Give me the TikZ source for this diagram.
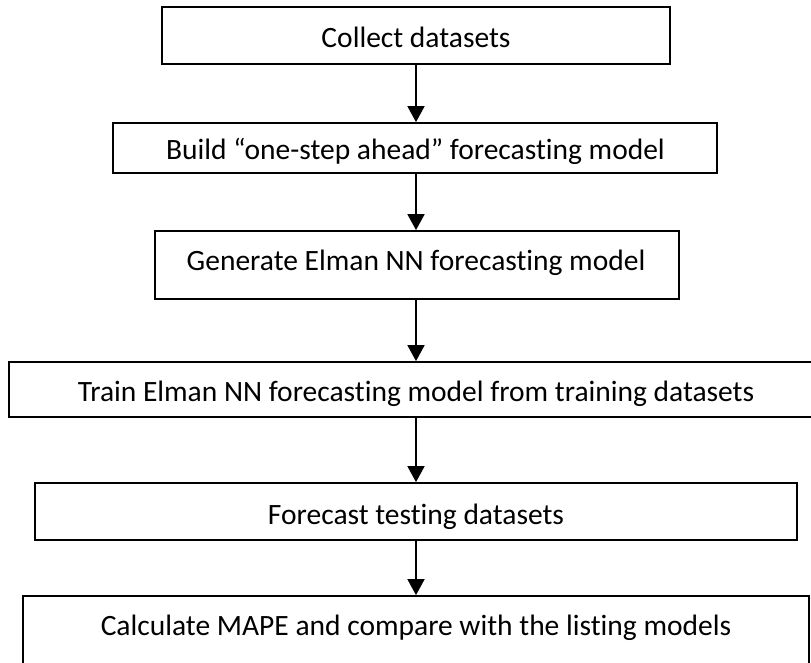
\documentclass[tikz,border=0pt]{standalone}
\usepackage{fontspec}
\setmainfont{Carlito}[Ligatures=NoCommon]
\usetikzlibrary{arrows.meta}
\tikzset{
  box/.style={draw=black, line width=1.8pt, fill=none, rectangle, inner sep=0pt},
  lbl/.style={anchor=base, inner sep=0pt, font=\fontsize{29.5}{34}\selectfont},
  arr/.style={line width=1.8pt, -{Triangle[width=17pt,length=16pt]}}
}
\begin{document}
\begin{tikzpicture}[x=1pt,y=1pt]
\useasboundingbox (0,0) rectangle (811,-662);
\fill[white] (0,0) rectangle (811,-662);
\coordinate (ax) at (416,0);
% boxes
\node[box, minimum width=508pt, minimum height=57pt] (b1) at (416,-35.5) {};
\node[box, minimum width=604pt, minimum height=50pt] (b2) at (415,-148) {};
\node[box, minimum width=524pt, minimum height=68pt] (b3) at (417,-265) {};
\node[box, minimum width=804pt, minimum height=55pt] (b4) at (411,-389.5) {};
\node[box, minimum width=762pt, minimum height=57pt] (b5) at (416,-511.5) {};
\node[box, minimum width=786pt, minimum height=84pt] (b6) at (416,-638) {};
% labels
\node[lbl] (t1) at (416,-47) {Collect datasets};
\begin{scope}
\clip (113,-123) rectangle (717,-163);
\node[lbl] (t2) at (415.5,-159) {Build “one-step ahead” forecasting model};
\end{scope}
\node[lbl] (t3) at (416,-270) {Generate Elman NN forecasting model};
\node[lbl] (t4) at (416,-401) {Train Elman NN forecasting model from training datasets};
\node[lbl] (t5) at (416,-524) {Forecast testing datasets};
\node[lbl] (t6) at (416,-635) {Calculate MAPE and compare with the listing models};
% arrows
\draw[arr] (ax |- b1.south) -- (ax |- b2.north);
\draw[arr] (ax |- b2.south) -- (ax |- b3.north);
\draw[arr] (ax |- b3.south) -- (ax |- b4.north);
\draw[arr] (ax |- b4.south) -- (ax |- b5.north);
\draw[arr] (ax |- b5.south) -- (ax |- b6.north);
\end{tikzpicture}
\end{document}
